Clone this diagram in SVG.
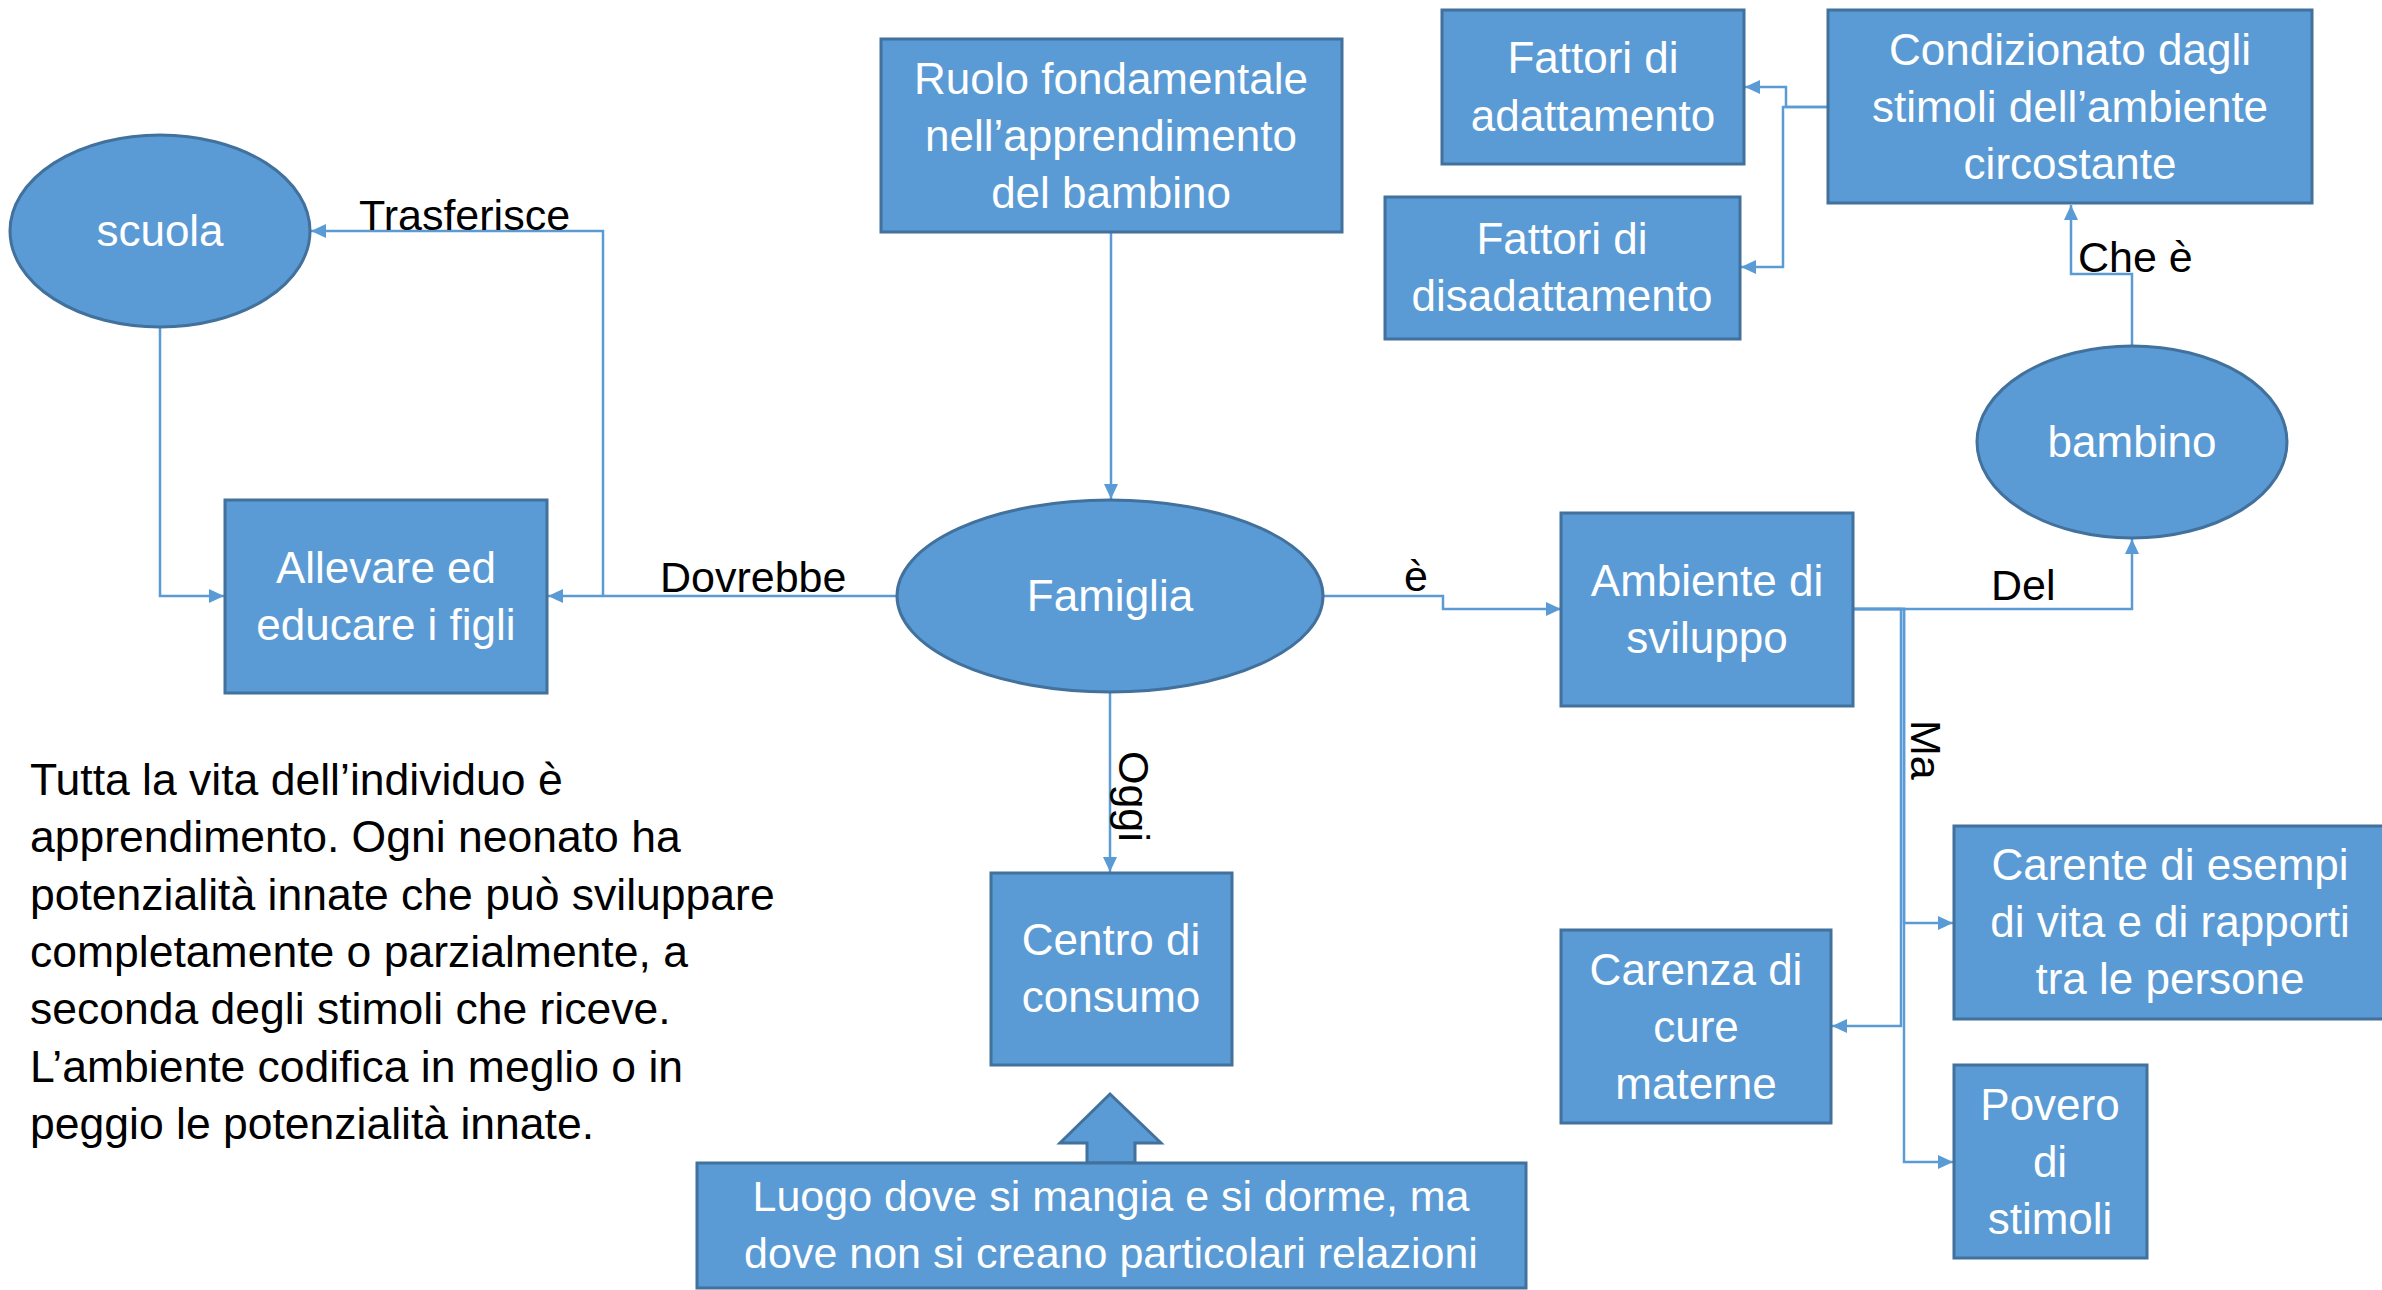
<svg xmlns="http://www.w3.org/2000/svg" width="2382" height="1290" viewBox="0 0 2382 1290">
<defs>
<style>
.box{fill:#5B9BD5;stroke:#41719C;stroke-width:3}
.nt{font-family:"Liberation Sans",Arial,sans-serif;font-size:44px;fill:#ffffff;text-anchor:middle}
.lbl{font-family:"Liberation Sans",Arial,sans-serif;font-size:43px;fill:#000000}
.para{font-family:"Liberation Sans",Arial,sans-serif;font-size:44.5px;fill:#000000}
.con{fill:none;stroke:#5B9BD5;stroke-width:2.5;marker-end:url(#arr)}
</style>
<marker id="arr" markerUnits="userSpaceOnUse" markerWidth="16" markerHeight="16" refX="15" refY="7" orient="auto">
<path d="M0,0 L15,7 L0,14 z" fill="#5B9BD5"/>
</marker>
</defs>
<rect width="2382" height="1290" fill="#ffffff"/>

<g id="connectors">
<path class="con" d="M1111,232 L1111,499"/>
<path class="con" d="M897,596 L548,596"/>
<path class="con" d="M603,596 L603,231 L311,231"/>
<path class="con" d="M160,328 L160,596 L224,596"/>
<path class="con" d="M1324,596 L1443,596 L1443,609 L1561,609"/>
<path class="con" d="M1110,692 L1110,872"/>
<path class="con" d="M1853,609 L2132,609 L2132,539"/>
<path class="con" d="M2132,345 L2132,274 L2071,274 L2071,205"/>
<path class="con" d="M1828,107 L1786,107 L1786,87 L1745,87"/>
<path class="con" d="M1828,107 L1783,107 L1783,267 L1741,267"/>
<path class="con" d="M1853,609 L1904,609 L1904,923 L1953,923"/>
<path class="con" d="M1853,609 L1904,609 L1904,1162 L1953,1162"/>
<path class="con" d="M1853,609 L1901,609 L1901,1026 L1832,1026"/>
</g>

<g id="labels">
<text class="lbl" x="359" y="230">Trasferisce</text>
<text class="lbl" x="660" y="592">Dovrebbe</text>
<text class="lbl" x="1404" y="591">è</text>
<text class="lbl" x="1991" y="600">Del</text>
<text class="lbl" x="2078" y="272">Che è</text>
<text class="lbl" transform="translate(1911,720) rotate(90)">Ma</text>
<text class="lbl" transform="translate(1119,751) rotate(90)">Oggi</text>
</g>

<g id="scuola">
<ellipse class="box" cx="160" cy="231" rx="150" ry="96"/>
<text class="nt" x="160" y="246">scuola</text>
</g>
<g id="allevare">
<rect class="box" x="225" y="500" width="322" height="193"/>
<text class="nt" x="386" y="583">Allevare ed</text>
<text class="nt" x="386" y="640">educare i figli</text>
</g>
<g id="ruolo">
<rect class="box" x="881" y="39" width="461" height="193"/>
<text class="nt" x="1111" y="94">Ruolo fondamentale</text>
<text class="nt" x="1111" y="151">nell’apprendimento</text>
<text class="nt" x="1111" y="208">del bambino</text>
</g>
<g id="famiglia">
<ellipse class="box" cx="1110" cy="596" rx="213" ry="96"/>
<text class="nt" x="1110" y="611">Famiglia</text>
</g>
<g id="centro">
<rect class="box" x="991" y="873" width="241" height="192"/>
<text class="nt" x="1111" y="955">Centro di</text>
<text class="nt" x="1111" y="1012">consumo</text>
</g>
<g id="luogo">
<polygon class="box" points="1110,1094 1161,1143 1135,1143 1135,1163 1087,1163 1087,1143 1060,1143"/>
<rect class="box" x="697" y="1163" width="829" height="125"/>
<text class="nt" x="1111" y="1211" style="font-size:43px">Luogo dove si mangia e si dorme, ma</text>
<text class="nt" x="1111" y="1268" style="font-size:43px">dove non si creano particolari relazioni</text>
</g>
<g id="fattori-adattamento">
<rect class="box" x="1442" y="10" width="302" height="154"/>
<text class="nt" x="1593" y="73">Fattori di</text>
<text class="nt" x="1593" y="131">adattamento</text>
</g>
<g id="condizionato">
<rect class="box" x="1828" y="10" width="484" height="193"/>
<text class="nt" x="2070" y="65">Condizionato dagli</text>
<text class="nt" x="2070" y="122">stimoli dell’ambiente</text>
<text class="nt" x="2070" y="179">circostante</text>
</g>
<g id="fattori-disadattamento">
<rect class="box" x="1385" y="197" width="355" height="142"/>
<text class="nt" x="1562" y="254">Fattori di</text>
<text class="nt" x="1562" y="311">disadattamento</text>
</g>
<g id="bambino">
<ellipse class="box" cx="2132" cy="442" rx="155" ry="96"/>
<text class="nt" x="2132" y="457">bambino</text>
</g>
<g id="ambiente">
<rect class="box" x="1561" y="513" width="292" height="193"/>
<text class="nt" x="1707" y="596">Ambiente di</text>
<text class="nt" x="1707" y="653">sviluppo</text>
</g>
<g id="carente">
<rect class="box" x="1954" y="826" width="432" height="193"/>
<text class="nt" x="2170" y="880">Carente di esempi</text>
<text class="nt" x="2170" y="937">di vita e di rapporti</text>
<text class="nt" x="2170" y="994">tra le persone</text>
</g>
<g id="carenza">
<rect class="box" x="1561" y="930" width="270" height="193"/>
<text class="nt" x="1696" y="985">Carenza di</text>
<text class="nt" x="1696" y="1042">cure</text>
<text class="nt" x="1696" y="1099">materne</text>
</g>
<g id="povero">
<rect class="box" x="1954" y="1065" width="193" height="193"/>
<text class="nt" x="2050" y="1120">Povero</text>
<text class="nt" x="2050" y="1177">di</text>
<text class="nt" x="2050" y="1234">stimoli</text>
</g>

<g id="paragrafo">
<text class="para" x="30" y="795">Tutta la vita dell’individuo è</text>
<text class="para" x="30" y="852">apprendimento. Ogni neonato ha</text>
<text class="para" x="30" y="910">potenzialità innate che può sviluppare</text>
<text class="para" x="30" y="967">completamente o parzialmente, a</text>
<text class="para" x="30" y="1024">seconda degli stimoli che riceve.</text>
<text class="para" x="30" y="1082">L’ambiente codifica in meglio o in</text>
<text class="para" x="30" y="1139">peggio le potenzialità innate.</text>
</g>
</svg>
